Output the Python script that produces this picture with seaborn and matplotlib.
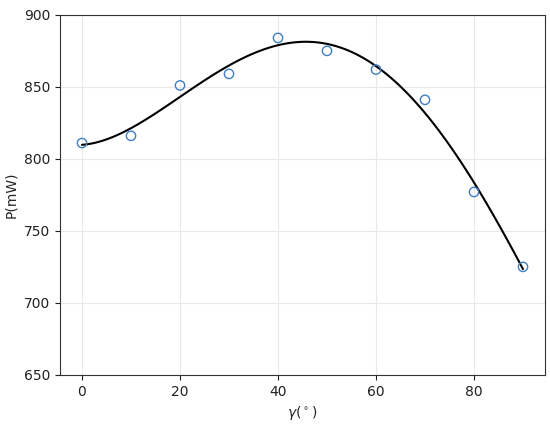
import numpy as np
import pandas as pd
import matplotlib
matplotlib.use("Agg")
import matplotlib.pyplot as plt
import seaborn as sns

gamma = [0, 10, 20, 30, 40, 50, 60, 70, 80, 90]
power = [811, 816, 851, 859, 884, 875, 862, 841, 777, 725]

df = pd.DataFrame({"gamma": gamma, "P": power})

sns.set_style("ticks")
plt.rcParams["font.family"] = ["DejaVu Sans"]

fig = plt.figure(figsize=(5.5, 4.25), dpi=100)
ax = fig.add_axes([0.109, 0.118, 0.882, 0.847])

sns.regplot(data=df, x="gamma", y="P", order=4, ci=None, ax=ax,
            scatter=False, truncate=True,
            line_kws=dict(color="black", lw=1.5))
sns.scatterplot(data=df, x="gamma", y="P", ax=ax, marker="o",
                facecolor="none", edgecolor="#3f7fc1", linewidth=1.0, s=45, zorder=3)

ax.set_ylim(650, 900)
ax.set_xlim(-4.5, 94.5)
ax.set_xticks([0, 20, 40, 60, 80])
ax.set_yticks([650, 700, 750, 800, 850, 900])
ax.grid(True, color="#e8e8e8", lw=0.8)
ax.set_axisbelow(True)
ax.set_xlabel(r"$\gamma(^\circ)$", fontsize=10)
ax.set_ylabel("P(mW)", fontsize=10)
ax.tick_params(labelsize=10, colors="#222222")
for s in ax.spines.values():
    s.set_color("#333333")

fig.savefig("out.png", dpi=100)
